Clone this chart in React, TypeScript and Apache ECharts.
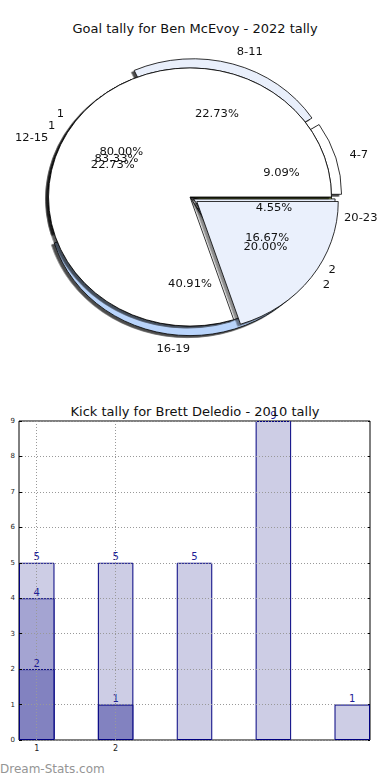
import React, { useEffect, useRef } from 'react';
import * as echarts from 'echarts';

// ---- Pie data (goal tally) ----
const pieTitle = 'Goal tally for Ben McEvoy - 2022 tally';
const quarterLabels = ['4-7', '8-11', '12-15', '16-19', '20-23'];
const quarterGoals = [2, 5, 5, 9, 1];
const quarterColors = ['#ffffff', '#e9effb', '#ffffff', '#b9d4fb', '#c8e86e'];
const quarterExploded = [true, true, false, true, false];

const splitALabels = ['1', '2'];
const splitAValues = [4, 1];
const splitAExploded = [false, true];
const splitBLabels = ['1', '2'];
const splitBValues = [5, 1];
const splitBExploded = [false, true];
const splitColors = ['#ffffff', '#eaf0fc'];

// ---- Bar data (kick tally) ----
const barTitle = 'Kick tally for Brett Deledio - 2010 tally';
const barPositions = [1, 2, 3, 4, 5];
const totalKicks = [5, 5, 5, 9, 1];
const midKicks = [4, null, null, null, null];
const lowKicks = [2, 1, null, null, null];
const xTickLabels = ['1', '2'];
const xTickPositions = [1, 2];

const FONT = 'DejaVu Sans';
const R = 135;
const C = [190, 197];

function pieSeries(
  names: string[],
  values: number[],
  colors: string[],
  exploded: boolean[],
  offset: number,
  shadow: number
) {
  const data = names.map((n, i) => ({
    name: n,
    value: values[i],
    selected: exploded[i],
    itemStyle: { color: colors[i] },
  }));
  return {
    type: 'pie',
    center: C,
    radius: R,
    startAngle: 0,
    clockwise: false,
    selectedMode: 'multiple',
    selectedOffset: offset,
    avoidLabelOverlap: false,
    labelLayout: { hideOverlap: false },
    silent: true,
    emphasis: { disabled: true },
    itemStyle: shadow > 0
      ? {
          borderColor: '#000',
          borderWidth: 0.8,
          shadowColor: `rgba(0,0,0,${shadow})`,
          shadowBlur: 1.5,
          shadowOffsetX: -2.5,
          shadowOffsetY: 2,
        }
      : { borderColor: '#000', borderWidth: 0.8 },
    label: {
      show: true,
      position: 'outside',
      formatter: '{b}',
      fontSize: 11,
      color: '#111',
      fontFamily: FONT,
      distanceToLabelLine: 0,
      alignTo: 'none',
    },
    labelLine: { show: false, length: R * 0.1, length2: 0 },
    data,
  };
}

function pctSeries(values: number[], exploded: boolean[], offset: number) {
  const total = values.reduce((a, b) => a + b, 0);
  return {
    type: 'pie',
    center: C,
    radius: 2 * (0.6 * R - 3),
    startAngle: 0,
    clockwise: false,
    selectedMode: 'multiple',
    selectedOffset: offset,
    avoidLabelOverlap: false,
    labelLayout: { hideOverlap: false },
    silent: true,
    emphasis: { disabled: true },
    itemStyle: { color: 'rgba(0,0,0,0)', borderWidth: 0 },
    label: {
      show: true,
      position: 'inner',
      formatter: (p: any) => ((p.value / total) * 100).toFixed(2) + '%',
      fontSize: 11,
      color: '#111',
      fontFamily: FONT,
    },
    labelLine: { show: false },
    data: values.map((v, i) => ({ value: v, selected: exploded[i] })),
  };
}

function pairs(vals: (number | null)[]) {
  const out: number[][] = [];
  vals.forEach((v, i) => {
    if (v != null) out.push([barPositions[i], v]);
  });
  return out;
}

const barLabel = {
  show: true,
  position: 'top',
  distance: 1,
  color: '#1e1e96',
  fontSize: 10,
  fontFamily: FONT,
};

export default function App() {
  const barRef = useRef<HTMLDivElement>(null);
  const pieRef = useRef<HTMLDivElement>(null);
  useEffect(() => {
    document.body.style.margin = '0';
    const barChart = echarts.init(barRef.current!, null, { renderer: 'svg' });
    const pieChart = echarts.init(pieRef.current!, null, { renderer: 'svg' });
    const barOption: any = {
      animation: false,
      backgroundColor: '#ffffff',
      title: [
        {
          text: pieTitle,
          left: 'center',
          top: 22,
          padding: 0,
          textStyle: { fontSize: 13, fontWeight: 'normal', color: '#111', fontFamily: FONT },
        },
        {
          text: barTitle,
          left: 'center',
          top: 405,
          padding: 0,
          textStyle: { fontSize: 13, fontWeight: 'normal', color: '#111', fontFamily: FONT },
        },
      ],
      grid: {
        left: 19,
        right: 20,
        top: 421,
        bottom: 40,
        show: true,
        borderColor: '#000',
        borderWidth: 1,
        backgroundColor: 'transparent',
      },
      xAxis: {
        type: 'value',
        min: 0.775,
        max: 5.225,
        splitNumber: 4,
        axisLine: { show: false },
        axisTick: { show: false },
        splitLine: { show: false },
        axisLabel: {
          formatter: (v: number) => (xTickLabels.includes(String(v)) ? String(v) : ''),
          fontSize: 8,
          color: '#222',
          fontFamily: FONT,
          margin: 4,
        },
      },
      yAxis: [
        {
          type: 'value',
          min: 0,
          max: 9,
          interval: 1,
          z: 5,
          axisLine: { show: false },
          axisTick: { show: true, inside: true, length: 3, lineStyle: { color: '#000' } },
          splitLine: { show: true, lineStyle: { type: [1, 2], color: '#999', width: 1 } },
          axisLabel: { fontSize: 7, color: '#222', fontFamily: FONT, margin: 4 },
        },
        {
          type: 'value',
          position: 'right',
          min: 0,
          max: 9,
          interval: 1,
          axisLine: { show: false },
          axisTick: { show: true, inside: true, length: 3, lineStyle: { color: '#000' } },
          splitLine: { show: false },
          axisLabel: { show: false },
        },
      ],
      series: [
        {
          type: 'bar',
          data: pairs(totalKicks),
          barWidth: 35.5,
          barGap: '-100%',
          itemStyle: { color: '#cdcde5', borderColor: '#000080', borderWidth: 1 },
          label: barLabel,
          silent: true,
          markLine: {
            silent: true,
            symbol: ['none', 'none'],
            label: { show: false },
            lineStyle: { type: [1, 2], color: '#999', width: 1 },
            data: xTickPositions.map((v) => ({ xAxis: v })),
            z: 10,
          },
        },
        {
          type: 'bar',
          data: pairs(midKicks),
          barWidth: 35.5,
          barGap: '-100%',
          itemStyle: { color: '#a4a4d2', borderColor: '#000080', borderWidth: 1 },
          label: barLabel,
          silent: true,
        },
        {
          type: 'bar',
          data: pairs(lowKicks),
          barWidth: 35.5,
          barGap: '-100%',
          itemStyle: { color: '#8282c0', borderColor: '#000080', borderWidth: 1 },
          label: barLabel,
          silent: true,
        },
      ],
      graphic: [
        {
          type: 'text',
          left: 0,
          top: 763,
          style: { text: 'Dream-Stats.com', fill: '#959595', font: '12px "DejaVu Sans"' },
        },
      ],
    };
    const pieOption: any = {
      animation: false,
      series: [
        pieSeries(quarterLabels, quarterGoals, quarterColors, quarterExploded, 10, 0.7),
        pieSeries(splitBLabels, splitBValues, splitColors, splitBExploded, 4, 0.35),
        pieSeries(splitALabels, splitAValues, splitColors, splitAExploded, 8, 0.45),
        pctSeries(quarterGoals, quarterExploded, 10),
        pctSeries(splitBValues, splitBExploded, 4),
        pctSeries(splitAValues, splitAExploded, 8),
      ],
    };
    barChart.setOption(barOption);
    pieChart.setOption(pieOption);
    return () => {
      pieChart.dispose();
      barChart.dispose();
    };
  }, []);
  return (
    <div style={{ position: 'relative', width: 390, height: 780 }}>
      <div ref={barRef} style={{ position: 'absolute', left: 0, top: 0, width: 390, height: 780 }} />
      <div
        ref={pieRef}
        style={{
          position: 'absolute',
          left: 0,
          top: 0,
          width: 390,
          height: 390,
          transform: 'scale(1.048, 0.956)',
          transformOrigin: `${C[0]}px ${C[1]}px`,
        }}
      />
    </div>
  );
}
